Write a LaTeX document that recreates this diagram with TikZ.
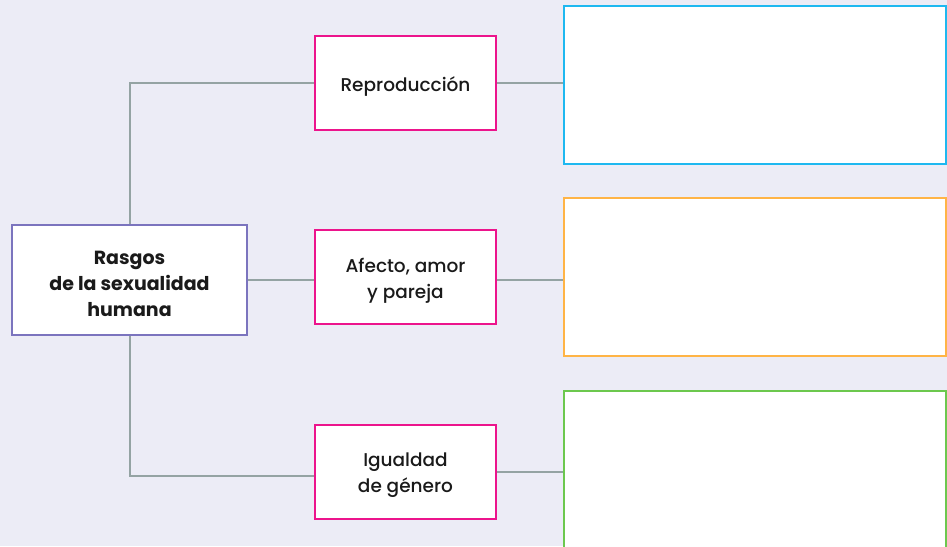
\documentclass[tikz,border=0pt]{standalone}
\usepackage{fontspec}
\setmainfont{Poppins}
\newfontfamily\medfont{Poppins Medium}
\newcommand{\topstrut}{\rule{0pt}{21.5pt}}
\definecolor{bg}{HTML}{ECECF6}
\definecolor{mainc}{HTML}{7B74BE}
\definecolor{pinkc}{HTML}{EC148C}
\definecolor{bluec}{HTML}{1EB8F0}
\definecolor{orangec}{HTML}{FFB446}
\definecolor{greenc}{HTML}{6CC84E}
\definecolor{linec}{HTML}{94A3A3}
\definecolor{textc}{HTML}{1A1A1A}
\begin{document}
\begin{tikzpicture}[x=1pt,y=-1pt,
  box/.style={draw, line width=2pt, fill=white, rectangle, align=center, inner sep=0pt, text=textc, font=\fontsize{18.5}{26}\selectfont\medfont},
  mainbox/.style={box, draw=mainc, minimum width=235pt, minimum height=110pt, font=\fontsize{19}{26}\selectfont\bfseries},
  subbox/.style={box, draw=pinkc, minimum width=181pt, minimum height=94pt},
  ansbox/.style={box, minimum width=382pt, minimum height=158pt},
  conn/.style={draw=linec, line width=2pt}]
\fill[bg] (0,0) rectangle (947,546);
\useasboundingbox (0,0) rectangle (947,546);
\node[mainbox] (main) at (129.5,280) {\topstrut Rasgos\\de la sexualidad\\humana};
\node[subbox] (repro) at (405.5,83) {\topstrut Reproducción};
\node[subbox] (afecto) at (405.5,277) {\topstrut Afecto, amor\\y pareja};
\node[subbox] (igual) at (405.5,471.5) {\topstrut Igualdad\\de género};
\node[ansbox, draw=bluec] (blue) at (755,85) {};
\node[ansbox, draw=orangec] (orange) at (755,277) {};
\node[ansbox, draw=greenc] (green) at (755,470) {};
\draw[conn] (main.north) |- (repro.west);
\draw[conn] (main.east) -- (main.east -| afecto.west);
\draw[conn] (main.south) |- ([yshift=-4.5pt]igual.west);
\draw[conn] (repro.east) -- (repro.east -| blue.west);
\draw[conn] ([yshift=-3pt]afecto.east) -- ([yshift=-3pt]afecto.east -| orange.west);
\draw[conn] (igual.east) -- (igual.east -| green.west);
\end{tikzpicture}
\end{document}
